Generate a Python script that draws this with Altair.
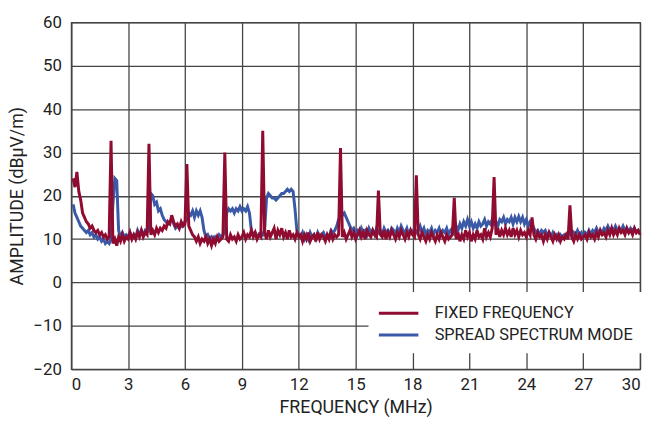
import altair as alt
import pandas as pd

series_names = ["FIXED FREQUENCY", "SPREAD SPECTRUM MODE"]
colors = ["#900b30", "#3a59a7"]

# frequency grid, MHz (0.1 ... 30.0)
freq = [round(0.1 * i, 1) for i in range(1, 301)]

fixed = [
    24, 22, 25.5, 21, 19, 16, 15, 14, 13.5, 12.5,
    13, 12, 11.5, 12, 11, 11.5, 10.5, 11, 10, 10.5,
    32.7, 9, 10, 8.5, 10.5, 9.5, 11, 9.5, 10.5, 10,
    11.5, 10, 11, 10, 11.5, 10.5, 12, 10.5, 11.5, 11,
    32, 11, 12, 11, 12.5, 11.5, 12.5, 12, 13, 12.5,
    14, 13.5, 15.5, 14, 13, 13.5, 12.5, 14, 13, 13.5,
    27.3, 13, 12, 11, 10.5, 9.5, 10.5, 9, 10, 9.5,
    10.5, 9, 10, 8.5, 10, 9, 10.5, 9.5, 10, 10.5,
    30, 10, 9.5, 11, 10, 10.5, 9.5, 11, 10, 10.5,
    11.5, 10, 11, 10.5, 12, 10.5, 11.5, 10, 11, 10.5,
    35, 11.5, 10, 12, 10.5, 11.5, 12.5, 10, 12, 11,
    12.5, 10.5, 11.5, 10, 12, 10.5, 11, 10, 11.5, 10.5,
    11, 9.5, 11, 10, 11.5, 9.5, 10.5, 11, 9.5, 11.5,
    10, 11, 10.5, 9.5, 11, 10, 11.5, 10, 11, 10.5,
    11, 31, 10.5, 11.5, 10, 11, 12, 10.5, 11.5, 10,
    11, 12, 10.5, 11.5, 10, 12, 11, 10.5, 12, 11,
    10.5, 21.2, 11, 10.5, 12, 10, 11.5, 10.5, 12, 11,
    10, 11.5, 10.5, 12, 11, 10, 11.5, 10.5, 12, 11,
    10.5, 24.7, 11, 10, 11.5, 10.5, 9.5, 11, 10, 11.5,
    10.5, 9.5, 11, 10, 11.5, 10.5, 9.5, 11, 10, 10.5,
    11, 19.5, 10, 11.5, 9.5, 11, 10, 12, 10.5, 11.5,
    9.5, 11, 10, 12, 10.5, 11, 10, 12.5, 10.5, 11.5,
    10.5, 12.5, 24.3, 11, 12.5, 10.5, 12, 11, 12.5, 11,
    12, 10.5, 12.5, 11, 12, 10.5, 12, 11, 11.5, 10.5,
    12, 11, 15, 11, 10, 11.5, 10.5, 11, 9.5, 11,
    10, 11.5, 10.5, 9.5, 11, 10, 11, 9.5, 10.5, 10,
    11, 10, 17.8, 10.5, 9.5, 11, 10, 11, 10, 10.5,
    11, 10, 11.5, 10.5, 11, 10, 11.5, 10.5, 12, 11,
    11.5, 10.5, 12, 11, 12.5, 11, 12, 11, 12.5, 11.5,
    12, 11, 12.5, 11.5, 12, 11, 12.5, 11.5, 12, 11,
]

spread = [
    18, 16, 15, 14, 13, 12.5, 12, 11.5, 12, 11,
    11.5, 10.5, 11, 10, 10.5, 9.5, 10, 9, 9.5, 9,
    10, 18, 24, 23.5, 12, 10.5, 11.5, 10.5, 11, 10.5,
    11.5, 10.5, 11, 10.5, 12, 11, 12, 11, 12, 11.5,
    12, 20.5, 20, 18, 18.5, 16.5, 17, 15.5, 14.5, 14,
    13.5, 14, 14.5, 13.5, 12.5, 13, 12.5, 13, 13.5, 14,
    14.5, 16, 15.5, 16.5, 15, 16.5, 15.5, 16.5, 15, 12,
    10.5, 11, 10, 10.5, 9.5, 10.5, 10, 11, 10.5, 11,
    11.5, 16, 17, 16.5, 17, 16, 17, 16.5, 17.5, 16.5,
    17, 16.5, 17.5, 16, 12, 11, 11.5, 10.5, 11, 11.5,
    11, 12, 19.5, 20.5, 20, 19.5, 19.5, 19, 19.5, 20,
    20.5, 20.5, 21, 21.5, 21, 21.5, 21, 17, 12, 11,
    10.5, 11.5, 10, 11, 10, 11.5, 10.5, 11, 10, 11.5,
    10.5, 11, 11.5, 10.5, 11, 10.5, 12, 11.5, 12, 13,
    14.5, 15, 15.5, 16, 15, 14, 13, 12, 12.5, 11.5,
    12, 11, 12.5, 11.5, 12, 11, 12.5, 11.5, 12, 11,
    12.5, 11.5, 12, 11, 12.5, 11.5, 12, 11, 12.5, 12,
    11, 12.5, 11.5, 13, 12, 11.5, 12.5, 11, 12, 11.5,
    12.5, 11.5, 12, 13, 11.5, 12.5, 11, 12, 11.5, 12.5,
    11, 12, 11.5, 12.5, 11, 12, 11.5, 12.5, 11, 12,
    12.5, 11.5, 13, 12, 13.5, 12.5, 14, 13, 14.5, 13,
    14, 12.5, 13.5, 12.5, 14, 13, 13.5, 14.5, 13, 14,
    13.5, 14.5, 13.5, 14, 13, 14.5, 14, 15, 13.5, 14.5,
    14, 15, 13.5, 15, 14, 15.2, 14, 15, 13.5, 14.5,
    13, 14, 13.5, 12.5, 11.5, 12, 11, 12, 11.5, 12,
    11, 11.5, 10.5, 11.5, 10.5, 11, 10, 11, 10.5, 11,
    10.5, 11, 11.5, 10.5, 11.5, 11, 12, 11, 11.5, 10.5,
    11.5, 11, 12, 11, 12, 11.5, 12.5, 11.5, 12, 11.5,
    12.5, 12, 13, 12, 12.5, 12, 13, 12, 12.5, 12,
    13, 12, 12.5, 11.5, 12.5, 12, 12.5, 11.5, 12, 11.5,
]

rows = []
for f, v in zip(freq, spread):
    rows.append({"f": f, "v": v, "s": series_names[1], "o": 0})
for f, v in zip(freq, fixed):
    rows.append({"f": f, "v": v, "s": series_names[0], "o": 1})
df = pd.DataFrame(rows)

x_ticks = [0, 3, 6, 9, 12, 15, 18, 21, 24, 27, 30]
y_ticks = [-20, -10, 0, 10, 20, 30, 40, 50, 60]

FONT = "Roboto, Liberation Sans, sans-serif"

chart = alt.Chart(df).mark_line(strokeWidth=3, strokeJoin="miter").encode(
    x=alt.X("f:Q", scale=alt.Scale(domain=[0, 30], nice=False, zero=False),
            axis=alt.Axis(values=x_ticks, title="FREQUENCY (MHz)", grid=True,
                          ticks=False, labelPadding=8, titlePadding=6)),
    y=alt.Y("v:Q", scale=alt.Scale(domain=[-20, 60], nice=False),
            axis=alt.Axis(values=y_ticks, title="AMPLITUDE (dBµV/m)", grid=True,
                          ticks=False, labelPadding=10, titlePadding=6)),
    color=alt.Color("s:N", scale=alt.Scale(domain=series_names, range=colors),
                    legend=alt.Legend(title=None, orient="none", legendX=301, legendY=273,
                                      symbolType="M-2,0H2", symbolSize=400,
                                      symbolStrokeWidth=3, symbolOffset=9,
                                      labelFontSize=16.5,
                                      labelFont=FONT, labelColor="#222",
                                      labelLimit=400,
                                      fillColor="white", padding=10, labelOffset=25,
                                      rowPadding=2)),
    detail="s:N",
    order=alt.Order("o:Q"),
).properties(
    width=576, height=351,
    autosize=alt.AutoSizeParams(type="none"),
    padding={"left": 64, "top": 12, "right": 9, "bottom": 52},
).configure_axis(
    labelFont=FONT, titleFont=FONT, labelFontSize=17, titleFontSize=18,
    titleFontWeight="normal", labelColor="#222", titleColor="#222",
    gridColor="#444444", gridWidth=1.3, gridOpacity=1,
    domainColor="#444444", domainWidth=1.3,
).configure_view(stroke="#444444", strokeWidth=1.3)

chart.save("out.html", embed_options={"renderer": "svg", "actions": False})
